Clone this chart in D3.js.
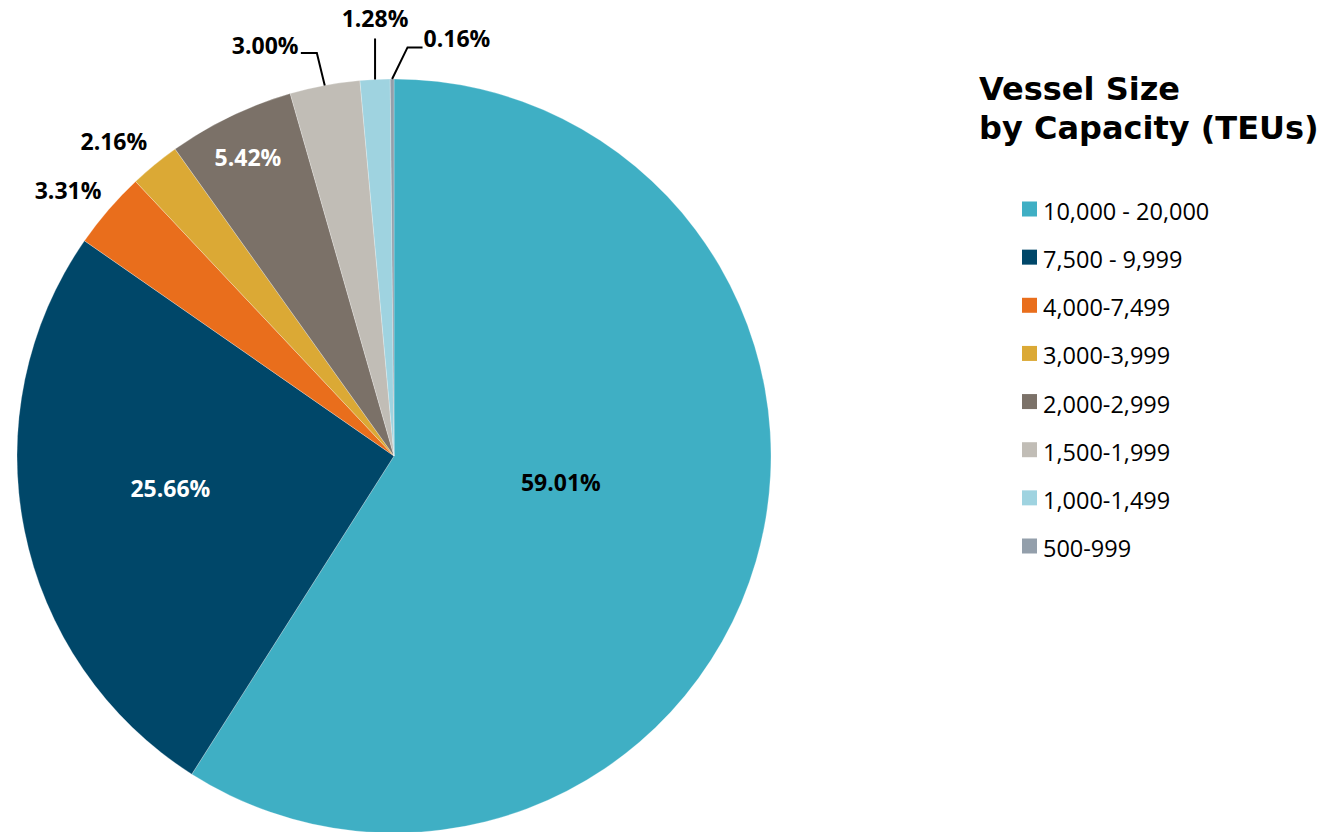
<!DOCTYPE html>
<html>
<head>
<meta charset="utf-8">
<script src="https://cdn.jsdelivr.net/npm/d3@7"></script>
<style>
  html, body { margin: 0; padding: 0; background: #ffffff; }
  svg { display: block; }
</style>
</head>
<body>
<svg id="chart" width="1325" height="832"></svg>
<script>
// Share of fleet by vessel size band (percent)
const categories = ["10,000 - 20,000", "7,500 - 9,999", "4,000-7,499", "3,000-3,999",
                    "2,000-2,999", "1,500-1,999", "1,000-1,499", "500-999"];
const shares = [59.01, 25.66, 3.31, 2.16, 5.42, 3.00, 1.28, 0.16];
const colors = ["#3FAFC4", "#004769", "#E96E1C", "#DBA935",
                "#7B7168", "#C1BDB6", "#9FD3E0", "#939FAB"];
const titleLines = ["Vessel Size", "by Capacity (TEUs)"];

// Label placement: distance along each slice's mid-angle (fraction of radius),
// a small nudge, text colour, and the kind of leader line (if any).
const labelLayout = [
  { f: 0.45, dx: 4,   dy: -21, fill: "#000000", leader: null },
  { f: 0.605, dx: 0,  dy: -13, fill: "#ffffff", leader: null },
  { f: 1.11, dx: -9,  dy: 7,   fill: "#000000", leader: null },
  { f: 1.10, dx: -17, dy: 6,   fill: "#000000", leader: null },
  { f: 0.88, dx: -2,  dy: 0,   fill: "#ffffff", leader: null },
  { f: 1.109, dx: -52, dy: 0,  fill: "#000000", leader: "left" },
  { f: 1.162, dx: 3,  dy: 0,   fill: "#000000", leader: "up" },
  { f: 1.109, dx: 65, dy: 0,   fill: "#000000", leader: "right" }
];

const svg = d3.select("#chart");
const cx = 394, cy = 456, radius = 377;

const data = categories.map((c, i) => ({ category: c, value: shares[i], color: colors[i], layout: labelLayout[i] }));

const pie = d3.pie().sort(null).value(d => d.value);
const arcs = pie(data);
const arc = d3.arc().innerRadius(0).outerRadius(radius);

const g = svg.append("g").attr("transform", `translate(${cx},${cy})`);

g.selectAll("path.slice")
  .data(arcs)
  .enter().append("path")
  .attr("class", "slice")
  .attr("d", arc)
  .attr("fill", d => d.data.color)
  .attr("stroke", "#ffffff")
  .attr("stroke-width", 0.5)
  .attr("stroke-opacity", 0.5);

const polar = (a, d) => [Math.sin(a) * d, -Math.cos(a) * d];

// Percentage labels
const labels = g.selectAll("text.pct")
  .data(arcs)
  .enter().append("text")
  .attr("class", "pct")
  .attr("text-anchor", "middle")
  .attr("dominant-baseline", "central")
  .style("font-family", "'Open Sans', 'Noto Sans', sans-serif")
  .style("font-weight", "700")
  .style("font-size", "23px")
  .attr("fill", d => d.data.layout.fill)
  .each(function (d) {
    const mid = (d.startAngle + d.endAngle) / 2;
    const L = d.data.layout;
    const [px, py] = polar(mid, radius * L.f);
    d.lx = px + L.dx;
    d.ly = py + L.dy;
  })
  .attr("x", d => d.lx)
  .attr("y", d => d.ly)
  .text(d => d.data.value.toFixed(2) + "%");

// Leader lines for the thin slices along the top
labels.each(function (d) {
  const L = d.data.layout;
  if (!L.leader) return;
  const bb = this.getBBox();
  const mid = (d.startAngle + d.endAngle) / 2;
  const [sx, sy] = polar(mid, radius);
  let pts;
  if (L.leader === "up") {
    pts = [[sx, sy], [sx, bb.y + bb.height + 4]];
  } else if (L.leader === "left") {
    const ey = d.ly + 8;
    const endX = bb.x + bb.width + 2;
    pts = [[sx, sy], [endX + 16, ey], [endX, ey]];
  } else {
    const ey = d.ly + 9.5;
    const endX = bb.x - 1;
    pts = [[sx, sy], [endX - 15, ey], [endX, ey]];
  }
  g.append("path")
    .attr("d", d3.line()(pts))
    .attr("fill", "none")
    .attr("stroke", "#000000")
    .attr("stroke-width", 2);
});

// Legend title
const title = svg.append("text")
  .attr("x", 979)
  .attr("y", 100)
  .style("font-family", "'DejaVu Sans', Verdana, sans-serif")
  .style("font-weight", "700")
  .style("font-size", "32px")
  .attr("fill", "#000000");
title.selectAll("tspan")
  .data(titleLines)
  .enter().append("tspan")
  .attr("x", 979)
  .attr("dy", (d, i) => i === 0 ? 0 : 39)
  .text(d => d);

// Legend entries
const legendY = d3.scalePoint().domain(categories).range([209, 546]);
const legend = svg.append("g");
const rows = legend.selectAll("g.row")
  .data(data)
  .enter().append("g")
  .attr("class", "row")
  .attr("transform", d => `translate(1022,${legendY(d.category)})`);

rows.append("rect")
  .attr("x", 0)
  .attr("y", -7.5)
  .attr("width", 15)
  .attr("height", 15)
  .attr("fill", d => d.color);

rows.append("text")
  .attr("x", 21)
  .attr("y", 2)
  .attr("dominant-baseline", "central")
  .style("font-family", "'Open Sans', 'Noto Sans', sans-serif")
  .style("font-size", "23.5px")
  .attr("fill", "#000000")
  .text(d => d.category);
</script>
</body>
</html>
